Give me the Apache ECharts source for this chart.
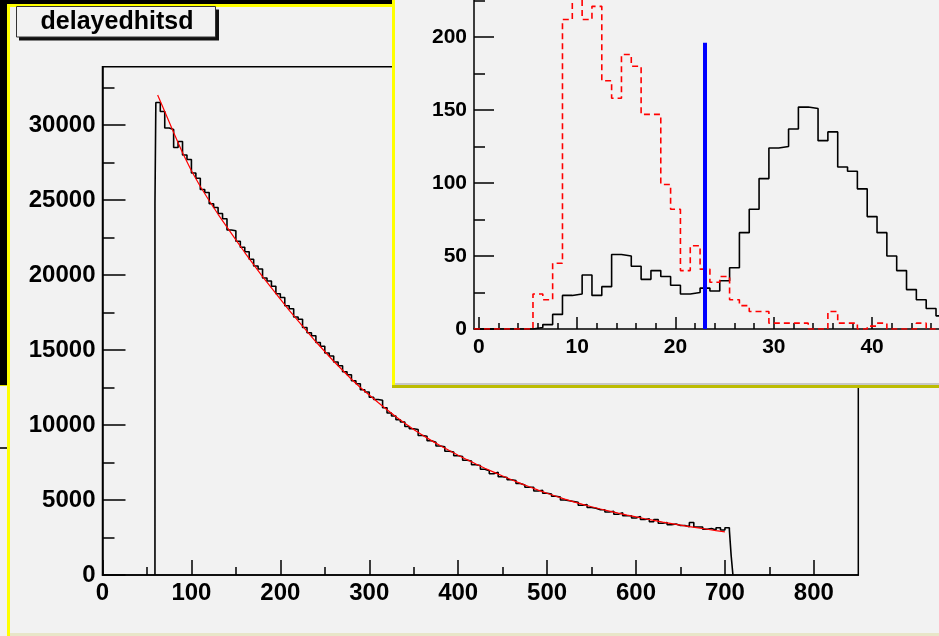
<!DOCTYPE html>
<html>
<head>
<meta charset="utf-8">
<script src="https://cdn.jsdelivr.net/npm/echarts@6/dist/echarts.min.js"></script>
<style>
	* { margin: 0; padding: 0; }
	body { width: 939px; height: 636px; overflow: hidden; background: #f2f2f2; position: relative; }
	.deco { position: absolute; }
	#main { position: absolute; left: 0; top: 0; width: 939px; height: 636px; z-index: 1; }
	#inset { position: absolute; left: 395px; top: -60px; width: 600px; height: 445px; background: #f2f2f2; z-index: 2; }
</style>
</head>
<body>
<!-- window borders (screenshot decoration) -->
<div class="deco" style="left:0;top:0;width:392px;height:4px;background:#000"></div>
<div class="deco" style="left:0;top:0;width:7px;height:385px;background:#000"></div>
<div class="deco" style="left:0;top:385px;width:7px;height:1px;background:#e0e000"></div>
<div class="deco" style="left:0;top:447px;width:7px;height:2px;background:#333"></div>
<div class="deco" style="left:7px;top:4px;width:385px;height:3px;background:#ffff00"></div>
<div class="deco" style="left:7px;top:4px;width:3px;height:632px;background:#ffff00"></div>
<div class="deco" style="left:10px;top:633px;width:929px;height:3px;background:#e8e6c8"></div>
<div id="main"></div>
<div id="inset"></div>
<div class="deco" style="left:392px;top:0;width:3px;height:388px;background:#ffff00;z-index:3"></div>
<div class="deco" style="left:395px;top:383px;width:544px;height:2px;background:#c8c8c8;z-index:3"></div>
<div class="deco" style="left:392px;top:385px;width:547px;height:3px;background:#bcbc00;z-index:3"></div>
<script>
	// ---- main histogram: delayedhitsd ----
	// leading edge bin, then 5-wide bins from 60, then the trailing edge
	var riseX = 59, riseY = 24800;
	var histStart = 60, histBin = 5;
	var histY = [
		31500, 30900, 29800, 29700, 28500, 28900, 28000, 27700, 26800, 26450,
		25700, 25500, 24750, 24500, 24100, 23750, 23000, 22950, 22250, 21850,
		21550, 21050, 20600, 20400, 19800, 19600, 19250, 18750, 18500, 17950,
		17750, 17200, 17050, 16500, 16150, 15950, 15500, 15250, 14800, 14600,
		14200, 13950, 13550, 13350, 12950, 12750, 12350, 12200, 11850, 11700,
		11650, 11150, 10800, 10600, 10350, 10200, 9900, 9750, 9700, 9300,
		9250, 8950, 8850, 8600, 8550, 8250, 8200, 7950, 7900, 7650,
		7600, 7350, 7300, 7050, 6950, 6750, 6850, 6550, 6500, 6350,
		6300, 6100, 6000, 5850, 5850, 5600, 5650, 5450, 5400, 5250,
		5200, 5000, 4950, 4900, 4850, 4650, 4700, 4500, 4450, 4350,
		4350, 4200, 4250, 4050, 4150, 3950, 3950, 3800, 3900, 3700,
		3750, 3550, 3700, 3450, 3500, 3350, 3400, 3300, 3300, 3220,
		3500, 3200, 3200, 3050, 3100, 3000, 3150, 3000, 3150, 3000
	];
	var tailX = [707, 709];
	var tailY = [1300, 0];

	// fitted curve (red)
	var fitX = [62, 70, 80, 90, 100, 110, 120, 130, 140, 150, 160, 170, 180, 190, 200,
		210, 220, 230, 240, 250, 260, 270, 280, 290, 300, 310, 320, 330, 340, 350,
		360, 370, 380, 390, 400, 410, 420, 430, 440, 450, 460, 470, 480, 490, 500,
		510, 520, 530, 540, 550, 560, 570, 580, 590, 600, 610, 620, 630, 640, 650,
		660, 670, 680, 690, 700];
	var fitY = [32000, 30900, 29500, 28150, 26950, 25900, 24950, 24050, 23200, 22350, 21500, 20700, 19900, 19150, 18400,
		17650, 16950, 16250, 15550, 14900, 14250, 13650, 13050, 12500, 12000, 11500, 11020, 10550, 10120, 9700,
		9320, 8960, 8620, 8300, 7990, 7690, 7400, 7120, 6860, 6600, 6350, 6110, 5880, 5660, 5450,
		5250, 5060, 4880, 4710, 4550, 4400, 4260, 4120, 3990, 3870, 3750, 3640, 3530, 3430, 3330,
		3230, 3140, 3050, 2960, 2880];

	var mainXMajor = [0, 100, 200, 300, 400, 500, 600, 700, 800];
	var mainXMinor = [50, 150, 250, 350, 450, 550, 650, 750];
	var mainYMajor = [0, 5000, 10000, 15000, 20000, 25000, 30000];
	var mainYMinor = [2500, 7500, 12500, 17500, 22500, 27500, 32500];

	// ---- inset: two distributions and the cut ----
	var inBlack = [0, 0, 0, 0, 0, 0, 1, 3, 10, 23,
		24, 37, 23, 29, 51, 50, 43, 34, 40, 36,
		30, 24, 25, 28, 26, 33, 42, 66, 82, 103,
		124, 125, 137, 152, 151, 129, 135, 111, 108, 96,
		77, 66, 50, 40, 27, 20, 14, 9, 6, 4];
	var inRed = [0, 0, 0, 0, 0, 0, 24, 20, 45, 212,
		236, 212, 221, 170, 158, 188, 180, 147, 147, 99,
		82, 40, 57, 41, 32, 36, 20, 16, 12, 12,
		4, 4, 4, 4, 0, 0, 12, 4, 4, 0,
		2, 4, 0, 0, 0, 4, 0, 0, 0, 0];
	var cutX = 23, cutTop = 196;

	var inXMajor = [0, 10, 20, 30, 40];
	var inXMinor = [2, 4, 6, 8, 12, 14, 16, 18, 22, 24, 26, 28, 32, 34, 36, 38, 42, 44, 46, 48];
	var inYMajor = [0, 50, 100, 150, 200];
	var inYMinor = [25, 75, 125, 175, 225];

	var FONT = '"Liberation Sans", Arial, sans-serif';

	function histPoints() {
		var pts = [[riseX, 0], [riseX, riseY]];
		histY.forEach(function (v, i) { pts.push([histStart + i * histBin, v]); });
		tailX.forEach(function (x, i) { pts.push([x, tailY[i]]); });
		return pts;
	}
	function binPoints(vals) {
		var pts = vals.map(function (v, i) { return [i - 0.5, v]; });
		pts.push([vals.length - 0.5, vals[vals.length - 1]]);
		return pts;
	}
	function tickAxis(min, max, ticks, len, labels, fontSize, margin, pos) {
		return {
			type: 'value', min: min, max: max, position: pos,
			axisLine: { show: !!labels, onZero: false, lineStyle: { color: '#000', width: 1.5 } },
			axisTick: { show: true, inside: true, length: len, customValues: ticks, lineStyle: { color: '#000', width: 1.5 } },
			axisLabel: labels ? {
				show: true, customValues: labels, margin: margin, color: '#000',
				fontSize: fontSize, fontWeight: 'bold', fontFamily: FONT,
				formatter: function (v) { return String(v); }
			} : { show: false },
			splitLine: { show: false }
		};
	}

	var mainChart = echarts.init(document.getElementById('main'));
	mainChart.setOption({
		animation: false,
		grid: {
			left: 102.5, top: 66.7, width: 755.8, height: 508.3,
			show: true, borderColor: '#000', borderWidth: 1.5, backgroundColor: 'transparent',
			outerBoundsMode: 'none'
		},
		graphic: [
			{ type: 'rect', shape: { x: 19, y: 9.5, width: 200, height: 31 }, style: { fill: '#111' } },
			{ type: 'rect', shape: { x: 16.5, y: 6.5, width: 199, height: 30.5 }, style: { fill: '#f2f2f2', stroke: '#333', lineWidth: 1 } },
			{
				type: 'text', x: 117, y: 22,
				style: {
					text: 'delayedhitsd', font: 'bold 25px "Liberation Sans"', fill: '#000',
					textAlign: 'center', textVerticalAlign: 'middle', align: 'center', verticalAlign: 'middle'
				}
			}
		],
		xAxis: [
			tickAxis(0, 850, mainXMajor, 15, mainXMajor, 24, 6, 'bottom'),
			tickAxis(0, 850, mainXMinor, 8, null, 0, 0, 'bottom')
		],
		yAxis: [
			tickAxis(0, 33890, mainYMajor, 23, mainYMajor, 24, 7, 'left'),
			tickAxis(0, 33890, mainYMinor, 12, null, 0, 0, 'left')
		],
		series: [{
			type: 'line', step: 'end', data: histPoints(), symbol: 'none',
			lineStyle: { color: '#000', width: 1.6 }, z: 3
		}, {
			type: 'line', data: fitX.map(function (x, i) { return [x, fitY[i]]; }), symbol: 'none',
			lineStyle: { color: '#ff0000', width: 1.2 }, z: 4
		}]
	});

	var insetChart = echarts.init(document.getElementById('inset'));
	insetChart.setOption({
		animation: false,
		grid: { left: 79, top: 24, width: 491.5, height: 365, show: false, outerBoundsMode: 'none' },
		xAxis: [
			tickAxis(-0.5, 49.5, inXMajor, 12, inXMajor, 21, 8, 'bottom'),
			tickAxis(-0.5, 49.5, inXMinor, 6, null, 0, 0, 'bottom')
		],
		yAxis: [
			tickAxis(0, 250, inYMajor, 20, inYMajor, 21, 7, 'left'),
			tickAxis(0, 250, inYMinor, 11, null, 0, 0, 'left')
		],
		series: [{
			type: 'line', step: 'end', data: binPoints(inBlack), symbol: 'none',
			lineStyle: { color: '#000', width: 1.6 }, z: 3
		}, {
			type: 'line', step: 'end', data: binPoints(inRed), symbol: 'none',
			lineStyle: { color: '#ff0000', width: 1.6, type: [6, 4] }, z: 4
		}, {
			type: 'line', data: [[cutX, 0], [cutX, cutTop]], symbol: 'none',
			lineStyle: { color: '#0000ff', width: 4 }, z: 5
		}]
	});
</script>
</body>
</html>
